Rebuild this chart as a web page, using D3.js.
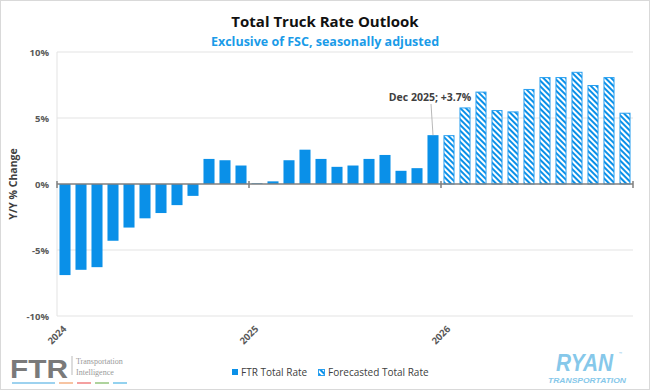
<!DOCTYPE html>
<html><head><meta charset="utf-8">
<script src="https://cdn.jsdelivr.net/npm/d3@7"></script>
<style>body{margin:0;background:#fff;font-family:"Open Sans","Noto Sans",Arial,sans-serif}</style>
</head><body><svg id="c" width="650" height="390"></svg>
<script>
const yearLabels = ["2024","2025","2026"];
const months = ["Jan","Feb","Mar","Apr","May","Jun","Jul","Aug","Sep","Oct","Nov","Dec"];
const actual2024 = [-6.9,-6.5,-6.3,-4.3,-3.3,-2.6,-2.2,-1.6,-0.9,1.9,1.8,1.4];
const actual2025 = [0.05,0.2,1.8,2.6,1.9,1.3,1.4,1.9,2.2,1.0,1.2,3.7];
const forecast2026 = [3.7,5.8,7.0,5.6,5.5,7.2,8.1,8.1,8.5,7.5,8.1,5.4];
const yTicks = [-10,-5,0,5,10];
const annotationText = "Dec 2025; +3.7%";

const blue = "#0a90e8";
const data = [];
[actual2024, actual2025].forEach((arr,yi)=>arr.forEach((v,i)=>data.push({key:yearLabels[yi]+"-"+months[i], v, f:false})));
forecast2026.forEach((v,i)=>data.push({key:yearLabels[2]+"-"+months[i], v, f:true}));

const svg = d3.select("#c");
const L=57, R=633, T=52, B=316;
const x = d3.scaleBand().domain(data.map(d=>d.key)).range([L,R]).paddingInner(0.31).paddingOuter(0.155);
const y = d3.scaleLinear().domain([-10,10]).range([B,T]);

const defs = svg.append("defs");
const pat = defs.append("pattern").attr("id","hatch").attr("patternUnits","userSpaceOnUse")
  .attr("width",4).attr("height",4).attr("patternTransform","rotate(-45)");
pat.append("rect").attr("width",4).attr("height",4).attr("fill","#fff");
pat.append("rect").attr("x",0).attr("width",2).attr("height",4).attr("fill",blue);

// outer border
svg.append("rect").attr("x",0.5).attr("y",0.5).attr("width",649).attr("height",389).attr("fill","none").attr("stroke","#d9d9d9");

// title
svg.append("text").attr("x",325).attr("y",27).attr("text-anchor","middle").attr("font-size",15).attr("font-weight","bold").attr("fill","#111").text("Total Truck Rate Outlook");
svg.append("text").attr("x",325).attr("y",46).attr("text-anchor","middle").attr("font-size",12.5).attr("font-weight","bold").attr("fill","#1a9be8").text("Exclusive of FSC, seasonally adjusted");

// gridlines
svg.append("g").selectAll("line").data(yTicks.filter(t=>t!==0)).join("line")
  .attr("x1",L).attr("x2",R).attr("y1",d=>y(d)).attr("y2",d=>y(d)).attr("stroke","#e3e3e3");
svg.append("line").attr("x1",L).attr("x2",L).attr("y1",T).attr("y2",B).attr("stroke","#e3e3e3");

// y axis labels
const yAxis = d3.axisLeft(y).tickValues(yTicks).tickFormat(d=>d+"%").tickSize(0).tickPadding(8);
const ga = svg.append("g").attr("transform",`translate(${L},0)`).call(yAxis);
ga.select(".domain").remove();
ga.selectAll("text").attr("font-size",9.5).attr("font-weight","bold").attr("fill","#595959").attr("font-family","Open Sans, Arial");

svg.append("text").attr("transform",`translate(17,${y(0)}) rotate(-90)`).attr("text-anchor","middle")
  .attr("font-size",10.5).attr("font-weight","bold").attr("fill","#404040").text("Y/Y % Change");

// bars
svg.append("g").selectAll("rect").data(data).join("rect")
  .attr("x",d=>x(d.key)+(d.f?0.5:0)).attr("width",d=>x.bandwidth()-(d.f?1:0))
  .attr("y",d=>y(Math.max(0,d.v))+(d.f?0.5:0)).attr("height",d=>Math.abs(y(d.v)-y(0))-(d.f?0.5:0))
  .attr("fill",d=>d.f?"url(#hatch)":blue).attr("stroke",d=>d.f?"#2aa0f0":"none").attr("stroke-width",1);

// zero line and x ticks
svg.append("line").attr("x1",L).attr("x2",R).attr("y1",y(0)).attr("y2",y(0)).attr("stroke","#7f7f7f").attr("stroke-width",1.5);
const tickX = [0,12,24,36].map(i=> L + i*(R-L)/data.length);
svg.append("g").selectAll("line").data(tickX).join("line")
  .attr("x1",d=>d).attr("x2",d=>d).attr("y1",y(0)-3).attr("y2",y(0)+4).attr("stroke","#7f7f7f").attr("stroke-width",1.5);

// year labels
svg.append("g").selectAll("text").data(yearLabels).join("text")
  .attr("transform",(d,i)=>`translate(${tickX[i]},${B+19}) rotate(-45)`)
  .attr("text-anchor","middle").attr("dy","0.35em").attr("font-size",9.5).attr("font-weight","bold").attr("fill","#595959").text(d=>d);

// annotation
const dec = data[23];
const ax = x(dec.key)+x.bandwidth()/2;
svg.append("line").attr("x1",ax-2).attr("y1",104).attr("x2",ax).attr("y2",y(dec.v)).attr("stroke","#a6a6a6").attr("stroke-width",0.8);
svg.append("text").attr("x",ax-3).attr("y",101).attr("text-anchor","middle").attr("font-size",10.5).attr("font-weight","bold").attr("fill","#404040").text(annotationText);

// legend
const lg = svg.append("g").attr("font-size",10).attr("fill","#404040");
lg.append("rect").attr("x",232).attr("y",369).attr("width",6).attr("height",6).attr("fill",blue);
lg.append("text").attr("x",241).attr("y",376).text("FTR Total Rate");
lg.append("rect").attr("x",318.5).attr("y",369.5).attr("width",6).attr("height",6).attr("fill","url(#hatch)").attr("stroke","#2aa0f0");
lg.append("text").attr("x",328).attr("y",376).text("Forecasted Total Rate");

// FTR logo
const fl = svg.append("g");
fl.append("text").attr("x",10).attr("y",378).attr("font-size",25).attr("font-weight","900").attr("fill","#7a7a7a").attr("font-family","Liberation Sans, Arial").attr("textLength",58).attr("lengthAdjust","spacingAndGlyphs").text("FTR");
fl.append("line").attr("x1",72).attr("x2",72).attr("y1",356).attr("y2",375).attr("stroke","#bbb");
fl.append("text").attr("x",76).attr("y",364).attr("font-size",8).attr("fill","#999").attr("font-family","Liberation Serif, serif").text("Transportation");
fl.append("text").attr("x",76).attr("y",375).attr("font-size",8).attr("fill","#999").attr("font-family","Liberation Serif, serif").text("Intelligence");
const segs=[[12,55,"#7cc3ea"],[59,73,"#f4b183"],[77,91,"#f08080"],[95,109,"#93c47d"],[113,127,"#6fc3ea"]];
fl.selectAll(".s").data(segs).join("line").attr("x1",d=>d[0]).attr("x2",d=>d[1]).attr("y1",383).attr("y2",383).attr("stroke",d=>d[2]).attr("stroke-width",1.5);

// RYAN logo
svg.append("text").attr("x",556).attr("y",371).attr("font-size",23).attr("font-weight","900").attr("font-style","italic").attr("fill","#86c8ea").attr("font-family","Liberation Sans, Arial").attr("textLength",57).attr("lengthAdjust","spacingAndGlyphs").text("RYAN");
svg.append("text").attr("x",548).attr("y",383).attr("font-size",8).attr("font-weight","900").attr("font-style","italic").attr("fill","#86c8ea").attr("font-family","Liberation Sans, Arial").attr("textLength",78).attr("lengthAdjust","spacingAndGlyphs").text("TRANSPORTATION");
svg.append("text").attr("x",619).attr("y",355).attr("font-size",4).attr("fill","#86c8ea").text("™");
</script></body></html>
